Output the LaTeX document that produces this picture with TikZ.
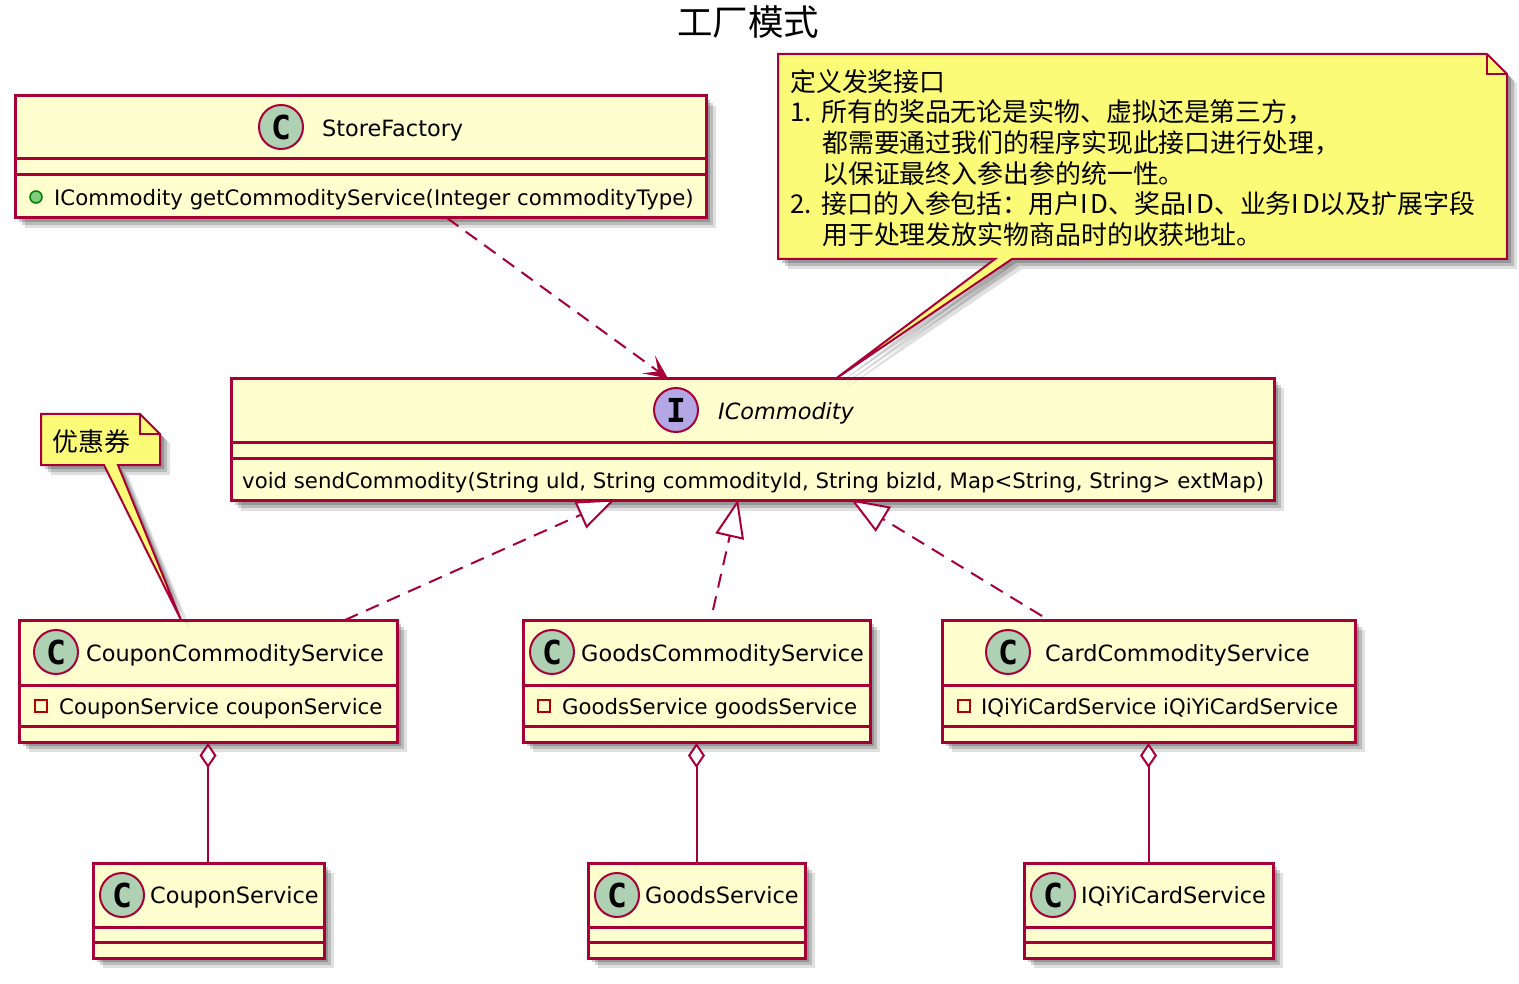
\documentclass[tikz,border=0pt]{standalone}
\usepackage{fontspec}
\setmainfont{DejaVu Sans}
\newfontfamily\cjk{Noto Sans CJK SC}
\newfontfamily\spotfont{DejaVu Sans Mono}
\usetikzlibrary{arrows.meta,shadows}
\definecolor{umlred}{HTML}{A80036}
\definecolor{umlfill}{HTML}{FEFECE}
\definecolor{notefill}{HTML}{FBFB77}
\definecolor{spotc}{HTML}{ADD1B2}
\definecolor{spoti}{HTML}{B4A7E5}

\begin{document}
\begin{tikzpicture}[x=1pt,y=-1pt]
\tikzstyle{softshadow}=[drop shadow={shadow xshift=4pt,shadow yshift=-4pt,fill=black,opacity=.2},
  drop shadow={shadow xshift=7pt,shadow yshift=-7pt,fill=black,opacity=.17},
  drop shadow={shadow xshift=10pt,shadow yshift=-10pt,fill=black,opacity=.12}]
\tikzstyle{classbox}=[draw=umlred,fill=umlfill,line width=3pt,outer sep=0pt,inner sep=0pt,softshadow]
\tikzstyle{divider}=[draw=umlred,line width=3pt]
\tikzstyle{spot}=[circle,draw=umlred,line width=2pt,minimum size=44pt,inner sep=0pt,
  font=\spotfont\bfseries\fontsize{33}{33}\selectfont]
\tikzstyle{title}=[anchor=west,inner sep=0pt,text height=20pt,text depth=3pt,font=\fontsize{22.4}{26}\selectfont]
\tikzstyle{member}=[anchor=west,inner sep=0pt,text height=20pt,text depth=3pt,font=\fontsize{21.25}{26}\selectfont]
\tikzstyle{notebody}=[draw=umlred,fill=notefill,line width=2pt,line join=miter,softshadow]
\tikzstyle{notetext}=[anchor=north west,align=left,inner sep=0pt,font=\cjk\fontsize{25.9}{30.7}\selectfont]
\tikzstyle{realizes}=[draw=umlred,line width=2pt,dash pattern=on 14pt off 9pt,
  -{Triangle[open,fill=white,length=38pt,width=29pt]}]
\tikzstyle{depends}=[draw=umlred,line width=2pt,dash pattern=on 14pt off 9pt,
  -{Stealth[length=24pt,width=22pt,inset=12pt]}]
\tikzstyle{aggregates}=[draw=umlred,line width=2pt,
  {Diamond[open,fill=white,length=25pt,width=17pt]}-]
\useasboundingbox (0,0) rectangle (1519,984);

\node[inner sep=0pt,font=\cjk\fontsize{35.5}{36}\selectfont] (heading) at (748,22) {工厂模式};

%class boxes
\node[classbox,minimum width=691,minimum height=122] (storefactory) at (360.5,157) {};
\node[classbox,minimum width=1043,minimum height=122] (icommodity) at (752.5,439.5) {};
\node[classbox,minimum width=378,minimum height=122] (couponcommodity) at (208,681) {};
\node[classbox,minimum width=347,minimum height=122] (goodscommodity) at (696.5,681) {};
\node[classbox,minimum width=413,minimum height=122] (cardcommodity) at (1148.5,681) {};
\node[classbox,minimum width=231,minimum height=95] (couponservice) at (208.5,910.5) {};
\node[classbox,minimum width=217,minimum height=95] (goodsservice) at (696.5,910.5) {};
\node[classbox,minimum width=249,minimum height=95] (iqiyiservice) at (1148.5,910.5) {};

%compartment lines
\foreach \cname/\ya/\yb in {storefactory/63/79,icommodity/64/80,couponcommodity/65/106,
  goodscommodity/65/106,cardcommodity/65/106,couponservice/64/79,goodsservice/64/79,iqiyiservice/64/79}{
  \draw[divider] ([yshift=-\ya pt]\cname.north west) -- ([yshift=-\ya pt]\cname.north east);
  \draw[divider] ([yshift=-\yb pt]\cname.north west) -- ([yshift=-\yb pt]\cname.north east);
}

%circles and names
\node[spot,fill=spotc] (storespot) at (281,127) {C};
\node[spot,fill=spoti] (icommodityspot) at (676,410) {I};
\node[spot,fill=spotc] (couponspot) at (56,652) {C};
\node[spot,fill=spotc] (goodsspot) at (552,652) {C};
\node[spot,fill=spotc] (cardspot) at (1008,652) {C};
\node[spot,fill=spotc] (couponservicespot) at (122,895) {C};
\node[spot,fill=spotc] (goodsservicespot) at (617,895) {C};
\node[spot,fill=spotc] (iqiyispot) at (1053,895) {C};
\node[title] (storename) at (322,128) {StoreFactory};
\node[title,font=\itshape\fontsize{22.4}{26}\selectfont] (icommodityname) at (718,410.5) {ICommodity};
\node[title] (couponname) at (86,652.5) {CouponCommodityService};
\node[title] (goodsname) at (581,652.5) {GoodsCommodityService};
\node[title] (cardname) at (1045,652.5) {CardCommodityService};
\node[title] (couponservicename) at (150,894.5) {CouponService};
\node[title] (goodsservicename) at (645,894.5) {GoodsService};
\node[title] (iqiyiname) at (1081,894.5) {IQiYiCardService};

%members
\node[circle,draw=black!50!green,fill=green!45!gray!70,line width=1.5pt,minimum size=12pt,inner sep=0pt] (storedot) at (36,197) {};
\node[member] (storemember) at (54,197) {ICommodity getCommodityService(Integer commodityType)};
\node[member] (icommoditymember) at (242,480) {void sendCommodity(String uId, String commodityId, String bizId, Map<String, String> extMap)};
\node[draw=red!70!black,line width=1.5pt,minimum size=12pt,inner sep=0pt] (couponsquare) at (41,706) {};
\node[member] (couponmember) at (59,705.5) {CouponService couponService};
\node[draw=red!70!black,line width=1.5pt,minimum size=12pt,inner sep=0pt] (goodssquare) at (544,706) {};
\node[member] (goodsmember) at (562,705.5) {GoodsService goodsService};
\node[draw=red!70!black,line width=1.5pt,minimum size=12pt,inner sep=0pt] (cardsquare) at (964,706) {};
\node[member] (cardmember) at (981,705.5) {IQiYiCardService iQiYiCardService};

%relations
\draw[depends] ([xshift=432pt]storefactory.south west) -- ([xshift=437pt]icommodity.north west);
\draw[realizes] ([xshift=326pt]couponcommodity.north west) -- ([xshift=384pt,yshift=1pt]icommodity.south west);
\draw[realizes] ([xshift=190pt,yshift=10pt]goodscommodity.north west) -- ([xshift=507pt,yshift=1pt]icommodity.south west);
\draw[realizes] ([xshift=100pt,yshift=4pt]cardcommodity.north west) -- ([xshift=620pt,yshift=1pt]icommodity.south west);
\draw[aggregates] ([yshift=-1pt]couponcommodity.south) -- (couponcommodity.south |- couponservice.north);
\draw[aggregates] ([yshift=-1pt]goodscommodity.south) -- (goodsservice.north);
\draw[aggregates] ([yshift=-1pt]cardcommodity.south) -- (iqiyiservice.north);

%notes and their tails
\draw[notebody] (778,54) -- (1487,54) -- (1507,74) -- (1507,259) -- (1012,259)
  -- ([xshift=605pt]icommodity.north west) -- (995,259) -- (778,259) -- cycle;
\draw[umlred,line width=2pt] (1487,54) -- (1487,74) -- (1507,74);
\node[notetext] (apinote) at (790,69) {定义发奖接口\\
  1.\kern2pt{} 所有的奖品无论是实物、虚拟还是第三方，\\
  \hspace*{32pt}都需要通过我们的程序实现此接口进行处理，\\
  \hspace*{32pt}以保证最终入参出参的统一性。\\
  2.\kern2pt{} 接口的入参包括：用户{\addfontfeature{LetterSpace=10}ID}、奖品{\addfontfeature{LetterSpace=10}ID}、业务{\addfontfeature{LetterSpace=10}ID}以及扩展字段\\
  \hspace*{32pt}用于处理发放实物商品时的收获地址。};

\draw[notebody] (41,414) -- (140,414) -- (160,434) -- (160,465) -- (118,465)
  -- ([xshift=162pt]couponcommodity.north west) -- (104,465) -- (41,465) -- cycle;
\draw[umlred,line width=2pt] (140,414) -- (140,434) -- (160,434);
\node[notetext] (couponnote) at (52,429) {优惠券};
\end{tikzpicture}
\end{document}
